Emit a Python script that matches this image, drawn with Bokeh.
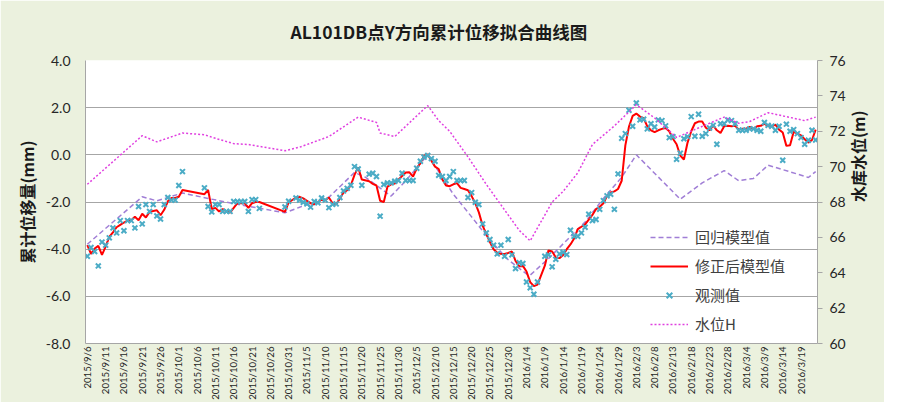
import math
from bokeh.plotting import figure
from bokeh.models import Range1d, LinearAxis, FixedTicker, Legend, LegendItem, NumeralTickFormatter
from bokeh.embed import file_html
from bokeh.resources import INLINE

TITLE = "AL101DB点Y方向累计位移拟合曲线图"
Y_LEFT_LABEL = "累计位移量(mm)"
Y_RIGHT_LABEL = "水库水位(m)"
SERIES_NAMES = ["回归模型值", "修正后模型值", "观测值", "水位H"]

# day offsets from 2015/9/6
tick_days = list(range(0, 196, 5))
tick_labels = ["2015/9/6", "2015/9/11", "2015/9/16", "2015/9/21", "2015/9/26", "2015/10/1",
               "2015/10/6", "2015/10/11", "2015/10/16", "2015/10/21", "2015/10/26", "2015/10/31",
               "2015/11/5", "2015/11/10", "2015/11/15", "2015/11/20", "2015/11/25", "2015/11/30",
               "2015/12/5", "2015/12/10", "2015/12/15", "2015/12/20", "2015/12/25", "2015/12/30",
               "2016/1/4", "2016/1/9", "2016/1/14", "2016/1/19", "2016/1/24", "2016/1/29",
               "2016/2/3", "2016/2/8", "2016/2/13", "2016/2/18", "2016/2/23", "2016/2/28",
               "2016/3/4", "2016/3/9", "2016/3/14", "2016/3/19"]

obs_day = (list(range(0, 27)) + list(range(32, 48)) + [54, 55] + list(range(57, 76))
           + list(range(77, 124)) + list(range(125, 200)))

obs_val = [-4.30, -3.93, -4.10, -4.71, -3.70, -3.83, -3.52, -3.10, -3.31, -2.79,
           -3.22, -2.79, -2.79, -3.10, -2.19, -2.93, -2.11, -2.40, -2.11, -2.59,
           -2.72, -2.11, -1.81, -1.92, -1.92, -1.30, -0.71,
           -1.40, -2.19, -2.42, -2.11, -2.11, -2.40, -2.40, -2.40, -1.98, -1.98,
           -1.98, -1.98, -2.40, -1.90, -1.90, -2.27,
           -2.21, -1.97,
           -1.83, -1.92, -2.01, -2.08, -2.22, -1.98, -2.03, -1.83, -1.92, -2.24,
           -2.10, -2.08, -1.81, -1.53, -1.42, -1.29, -0.50, -0.60, -1.29,
           -0.82, -0.78, -0.92, -2.60, -1.26, -1.19, -1.19, -1.12, -1.09, -0.78,
           -1.09, -1.09, -1.09, -0.57, -0.27, -0.10, -0.03, -0.16, -0.27, -0.87,
           -0.92, -1.09, -0.92, -0.71, -1.09, -1.09, -1.09, -1.81, -1.60, -2.01,
           -2.11, -2.93, -3.31, -3.59, -3.83, -4.20, -3.83, -4.30, -3.59, -4.24,
           -4.82, -4.57, -4.61, -5.39, -5.64, -5.91, -5.39,
           -4.30, -4.24, -4.75, -4.43, -4.20, -4.13, -4.23, -3.20, -3.45, -3.45,
           -3.31, -3.07, -2.52, -2.79, -2.74, -2.31, -1.94, -1.74, -1.67, -2.31,
           -0.81, 0.70, 0.90, 1.89, 1.21, 2.20, 1.48, 1.51, 1.10, 1.32,
           1.18, 1.48, 1.45, 1.23, 0.73, 0.77, -0.19, 0.07, 0.68, 0.77,
           1.62, 0.79, 1.72, 0.79, 0.90, 1.14, 1.25, 0.45, 1.32, 1.32,
           1.48, 1.45, 1.32, 1.04, 1.04, 1.04, 1.10, 1.10, 1.04, 1.00,
           1.37, 1.25, 1.21, 1.04, 1.21, -0.23, 1.30, 1.00, 1.07, 0.90,
           0.73, 0.45, 0.62, 1.04, 0.63]

corr_val = [-3.83, -4.20, -3.97, -3.86, -4.24, -3.89, -3.48, -3.29, -3.07, -2.97,
            -2.87, -2.79, -2.77, -2.63, -2.77, -2.50, -2.66, -2.42, -2.38, -2.35,
            -2.56, -2.33, -1.97, -1.83, -1.83, -1.78, -1.49,
            -1.67, -1.49, -2.30, -2.25, -2.40, -2.30, -2.40, -2.45, -2.25, -2.05,
            -2.05, -2.05, -2.25, -2.05, -2.00, -2.00,
            -2.42, -2.02,
            -1.81, -1.78, -1.85, -1.95, -2.05, -2.10, -2.00, -1.90, -1.92, -1.81,
            -2.05, -2.10, -1.85, -1.60, -1.50, -1.29, -0.85, -0.53, -1.05,
            -1.12, -1.23, -1.30, -1.95, -2.00, -1.35, -1.25, -1.22, -1.05, -0.90,
            -0.75, -0.74, -0.92, -0.57, -0.35, -0.05, 0.02, -0.25, -0.50, -0.60,
            -1.05, -1.30, -1.33, -1.25, -1.20, -1.40, -1.45, -1.50, -1.75, -2.05,
            -2.45, -3.00, -3.35, -3.70, -4.00, -4.15, -4.20, -4.20, -4.16, -4.10,
            -4.50, -4.72, -4.71, -4.95, -5.40, -5.57, -5.50,
            -4.70, -4.05, -4.10, -4.35, -4.38, -4.25, -4.00, -3.80, -3.55, -3.15,
            -3.05, -2.95, -2.75, -2.55, -2.30, -2.20, -2.05, -1.75, -1.60, -1.55,
            -1.45, -1.10, 0.40, 1.20, 1.65, 1.75, 1.62, 1.55, 1.21, 1.04,
            0.96, 1.04, 1.10, 1.14, 1.00, 0.68, 0.45, -0.03, -0.20, 0.52,
            1.00, 1.34, 1.41, 1.41, 1.15, 1.04, 1.25, 1.04, 0.93, 1.21,
            1.23, 1.21, 1.23, 1.07, 1.11, 1.11, 1.18, 1.10, 1.21, 1.23,
            1.32, 1.21, 1.21, 1.28, 1.07, 0.95, 0.38, 0.41, 0.98, 0.90,
            0.82, 0.66, 0.52, 0.63, 1.07]

reg_day = [0, 15, 19, 26, 33, 41, 49, 54, 58, 66, 73, 76, 83, 87, 93,
           100, 105, 110, 115, 120, 121, 126, 131, 136, 141, 146, 150,
           162, 168, 174, 178, 182, 186, 192, 197, 199]
reg_val = [-3.79, -1.78, -1.95, -1.62, -1.85, -2.10, -2.32, -2.46, -2.22, -1.80, -0.75, -0.95,
           -1.75, -1.10, 0.00, -1.67, -2.63, -3.62, -4.45, -5.05, -5.10, -4.40, -3.62, -2.85,
           -1.85, -0.95, 0.00, -1.88, -1.19, -0.67, -1.10, -1.00, -0.44, -0.72, -0.96, -0.71]

h_day = [0, 15, 19, 26, 32, 35, 40, 44, 54, 58, 66, 74, 79, 80, 84, 93, 96, 99, 104, 109,
         114, 118, 121, 124, 127, 130, 134, 138, 144, 150, 155, 161, 166, 174, 178, 181,
         186, 196, 199]
h_val = [69.0, 71.75, 71.4, 71.9, 71.8, 71.6, 71.3, 71.25, 70.9, 71.1, 71.7, 72.8, 72.5,
         71.9, 71.7, 73.45, 72.6, 72.0, 70.55, 69.0, 67.55, 66.4, 65.8, 66.9, 68.0, 68.6,
         69.65, 71.25, 72.3, 73.5, 72.75, 71.65, 72.1, 72.8, 72.45, 72.55, 73.05, 72.6, 72.8]

BG = "#EBF1DE"
GRID = "#A6A6A6"
TXT = "#262626"

p = figure(width=884, height=402, output_backend="svg", toolbar_location=None,
           x_range=Range1d(-0.5, 199.5), y_range=Range1d(-8, 4),
           min_border_left=85, min_border_right=64, min_border_top=55, min_border_bottom=54,
           border_fill_color=BG, background_fill_color="white", outline_line_color=None)
p.extra_y_ranges = {"h": Range1d(60, 76)}

# title
p.title.text = TITLE
p.title.align = "left"
p.title.offset = 205
p.title.standoff = 33
p.title.text_font = "Noto Sans CJK SC"
p.title.text_font_style = "bold"
p.title.text_font_size = "17.5px"
p.title.text_color = "#1a1a1a"

# left axis
p.yaxis.ticker = FixedTicker(ticks=[-8, -6, -4, -2, 0, 2, 4])
p.yaxis.formatter = NumeralTickFormatter(format="0.0")
p.yaxis.major_tick_out = 0
p.yaxis.major_tick_in = 0
p.yaxis.minor_tick_out = 0
p.yaxis.minor_tick_in = 0
p.yaxis.major_label_standoff = 15
p.yaxis.axis_line_color = GRID
p.yaxis.major_label_text_font = "Lato"
p.yaxis.major_label_text_font_size = "14px"
p.yaxis.major_label_text_color = TXT
p.yaxis.axis_label = Y_LEFT_LABEL
p.yaxis.axis_label_standoff = 4
p.yaxis.axis_label_text_font = "Noto Sans CJK SC"
p.yaxis.axis_label_text_font_style = "bold"
p.yaxis.axis_label_text_font_size = "16px"
p.yaxis.axis_label_text_color = "#1a1a1a"

# bottom axis
p.xaxis.ticker = FixedTicker(ticks=tick_days)
p.xaxis.major_label_overrides = {d: s for d, s in zip(tick_days, tick_labels)}
p.xaxis.major_label_orientation = math.pi / 2
p.xaxis.major_tick_out = 0
p.xaxis.major_tick_in = 0
p.xaxis.minor_tick_out = 0
p.xaxis.minor_tick_in = 0
p.xaxis.major_label_standoff = 3
p.xaxis.axis_line_color = GRID
p.xaxis.major_label_text_font = "Lato"
p.xaxis.major_label_text_font_size = "9.6px"
p.xaxis.major_label_text_color = TXT

# right axis
raxis = LinearAxis(y_range_name="h", ticker=FixedTicker(ticks=list(range(60, 77, 2))))
raxis.major_tick_out = 5
raxis.major_tick_in = 0
raxis.minor_tick_out = 0
raxis.minor_tick_in = 0
raxis.major_tick_line_color = GRID
raxis.axis_line_color = GRID
raxis.major_label_standoff = 7
raxis.major_label_text_font = "Lato"
raxis.major_label_text_font_size = "14px"
raxis.major_label_text_color = TXT
raxis.axis_label = Y_RIGHT_LABEL
raxis.axis_label_standoff = 9
raxis.axis_label_text_font = "Noto Sans CJK SC"
raxis.axis_label_text_font_style = "bold"
raxis.axis_label_text_font_size = "16px"
raxis.axis_label_text_color = "#1a1a1a"
raxis.axis_label_text_baseline = "top"
try:
    raxis.axis_label_orientation = math.pi / 2
except AttributeError:
    pass
p.add_layout(raxis, "right")

p.xgrid.grid_line_color = None
p.ygrid.grid_line_color = GRID
p.ygrid.grid_line_width = 1

# series
r_reg = p.line(reg_day, reg_val, line_color="#A07ED6", line_width=1.5, line_dash="5 3")
r_corr = p.line(obs_day, corr_val, line_color="#FF0000", line_width=2)
r_obs = p.scatter(obs_day, obs_val, marker="x", size=7, line_width=2, line_color="#4BACC6")
r_h = p.line(h_day, h_val, y_range_name="h", line_color="#E040E0", line_width=1.5, line_dash="2 2")

legend = Legend(items=[LegendItem(label=SERIES_NAMES[0], renderers=[r_reg]),
                       LegendItem(label=SERIES_NAMES[1], renderers=[r_corr]),
                       LegendItem(label=SERIES_NAMES[2], renderers=[r_obs]),
                       LegendItem(label=SERIES_NAMES[3], renderers=[r_h])],
                location=(565, 9), border_line_color=None, background_fill_alpha=0,
                padding=0, margin=0, spacing=8, glyph_width=38, glyph_height=20,
                label_height=20, label_standoff=7, label_text_font="Noto Sans CJK SC",
                label_text_font_size="15px", label_text_color="#404040")
p.add_layout(legend)

open("out.html", "w").write(file_html(p, INLINE))
